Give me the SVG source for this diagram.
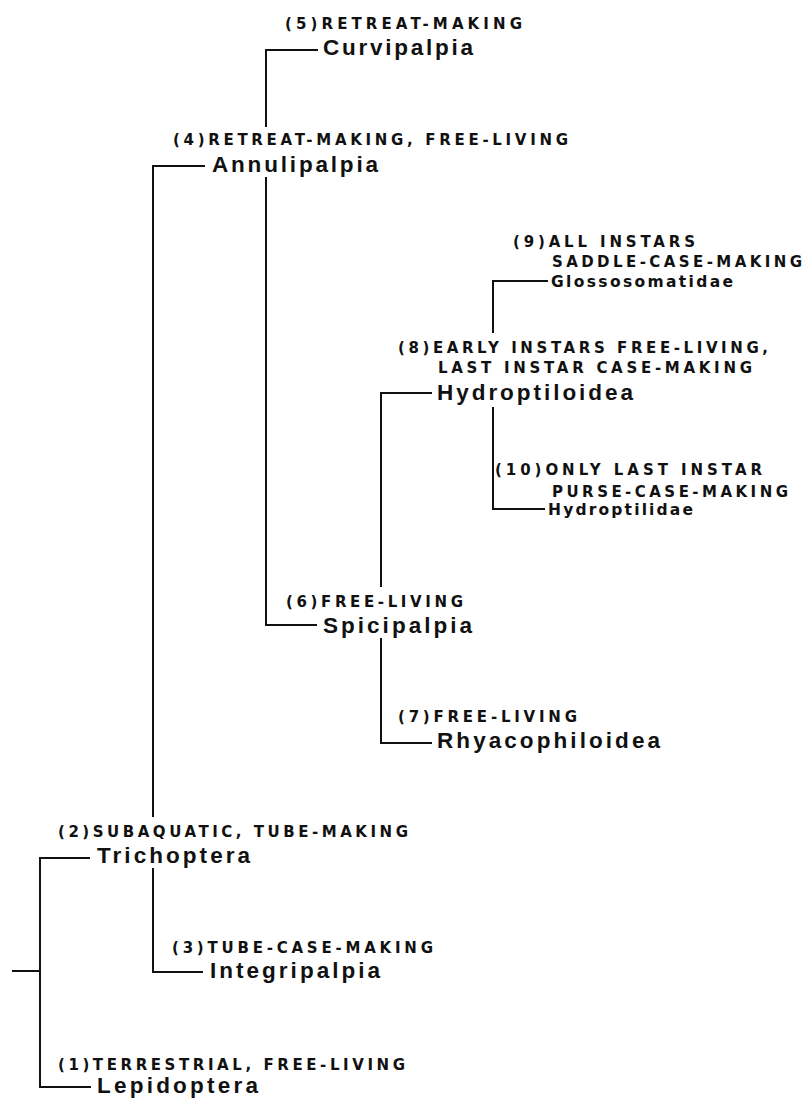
<svg xmlns="http://www.w3.org/2000/svg" width="809" height="1099" viewBox="0 0 809 1099">
<style>
text{font-family:"Liberation Sans",Arial,Helvetica,sans-serif;font-weight:bold;fill:#111}
.lab{font-family:"DejaVu Sans","Liberation Sans",sans-serif;font-size:15px}
.name{font-size:22.5px}
.sm{font-family:"DejaVu Sans","Liberation Sans",sans-serif;font-size:15.5px}
.con path{fill:none;stroke:#111;stroke-width:2}
</style>
<rect width="809" height="1099" fill="#fff"/>
<g class="con" id="connectors">
<path d="M12,971 H40"/>
<path d="M40,971 V858 H90"/>
<path d="M40,971 V1087 H91"/>
<path d="M153,817 V166 H205"/>
<path d="M153,868 V972 H203"/>
<path d="M266,127 V50 H318"/>
<path d="M266,177 V625 H317"/>
<path d="M381,587 V393 H432"/>
<path d="M381,638 V743 H432"/>
<path d="M493,333 V281 H548"/>
<path d="M493,407 V509 H545"/>
</g>
<g id="curvipalpia">
<text class="lab" x="285" y="29" textLength="237" lengthAdjust="spacing">(5)RETREAT-MAKING</text>
<text class="name" x="323" y="55" textLength="150" lengthAdjust="spacing">Curvipalpia</text>
</g>
<g id="annulipalpia">
<text class="lab" x="173" y="145" textLength="395" lengthAdjust="spacing">(4)RETREAT-MAKING, FREE-LIVING</text>
<text class="name" x="212" y="172" textLength="166" lengthAdjust="spacing">Annulipalpia</text>
</g>
<g id="glossosomatidae">
<text class="lab" x="513" y="247" textLength="182" lengthAdjust="spacing">(9)ALL INSTARS</text>
<text class="lab" x="552" y="267" textLength="250" lengthAdjust="spacing">SADDLE-CASE-MAKING</text>
<text class="sm" x="551" y="287" textLength="182" lengthAdjust="spacing">Glossosomatidae</text>
</g>
<g id="hydroptiloidea">
<text class="lab" x="398" y="353" textLength="370" lengthAdjust="spacing">(8)EARLY INSTARS FREE-LIVING,</text>
<text class="lab" x="438" y="373" textLength="314" lengthAdjust="spacing">LAST INSTAR CASE-MAKING</text>
<text class="name" x="437" y="400" textLength="196" lengthAdjust="spacing">Hydroptiloidea</text>
</g>
<g id="hydroptilidae">
<text class="lab" x="495" y="475" textLength="267" lengthAdjust="spacing">(10)ONLY LAST INSTAR</text>
<text class="lab" x="552" y="497" textLength="236" lengthAdjust="spacing">PURSE-CASE-MAKING</text>
<text class="sm" x="548" y="515" textLength="145" lengthAdjust="spacing">Hydroptilidae</text>
</g>
<g id="spicipalpia">
<text class="lab" x="286" y="607" textLength="177" lengthAdjust="spacing">(6)FREE-LIVING</text>
<text class="name" x="323" y="633" textLength="149" lengthAdjust="spacing">Spicipalpia</text>
</g>
<g id="rhyacophiloidea">
<text class="lab" x="398" y="722" textLength="179" lengthAdjust="spacing">(7)FREE-LIVING</text>
<text class="name" x="437" y="748" textLength="223" lengthAdjust="spacing">Rhyacophiloidea</text>
</g>
<g id="trichoptera">
<text class="lab" x="58" y="837" textLength="350" lengthAdjust="spacing">(2)SUBAQUATIC, TUBE-MAKING</text>
<text class="name" x="97" y="863" textLength="153" lengthAdjust="spacing">Trichoptera</text>
</g>
<g id="integripalpia">
<text class="lab" x="172" y="953" textLength="261" lengthAdjust="spacing">(3)TUBE-CASE-MAKING</text>
<text class="name" x="210" y="978" textLength="170" lengthAdjust="spacing">Integripalpia</text>
</g>
<g id="lepidoptera">
<text class="lab" x="58" y="1070" textLength="347" lengthAdjust="spacing">(1)TERRESTRIAL, FREE-LIVING</text>
<text class="name" x="97" y="1093" textLength="161" lengthAdjust="spacing">Lepidoptera</text>
</g>
</svg>
